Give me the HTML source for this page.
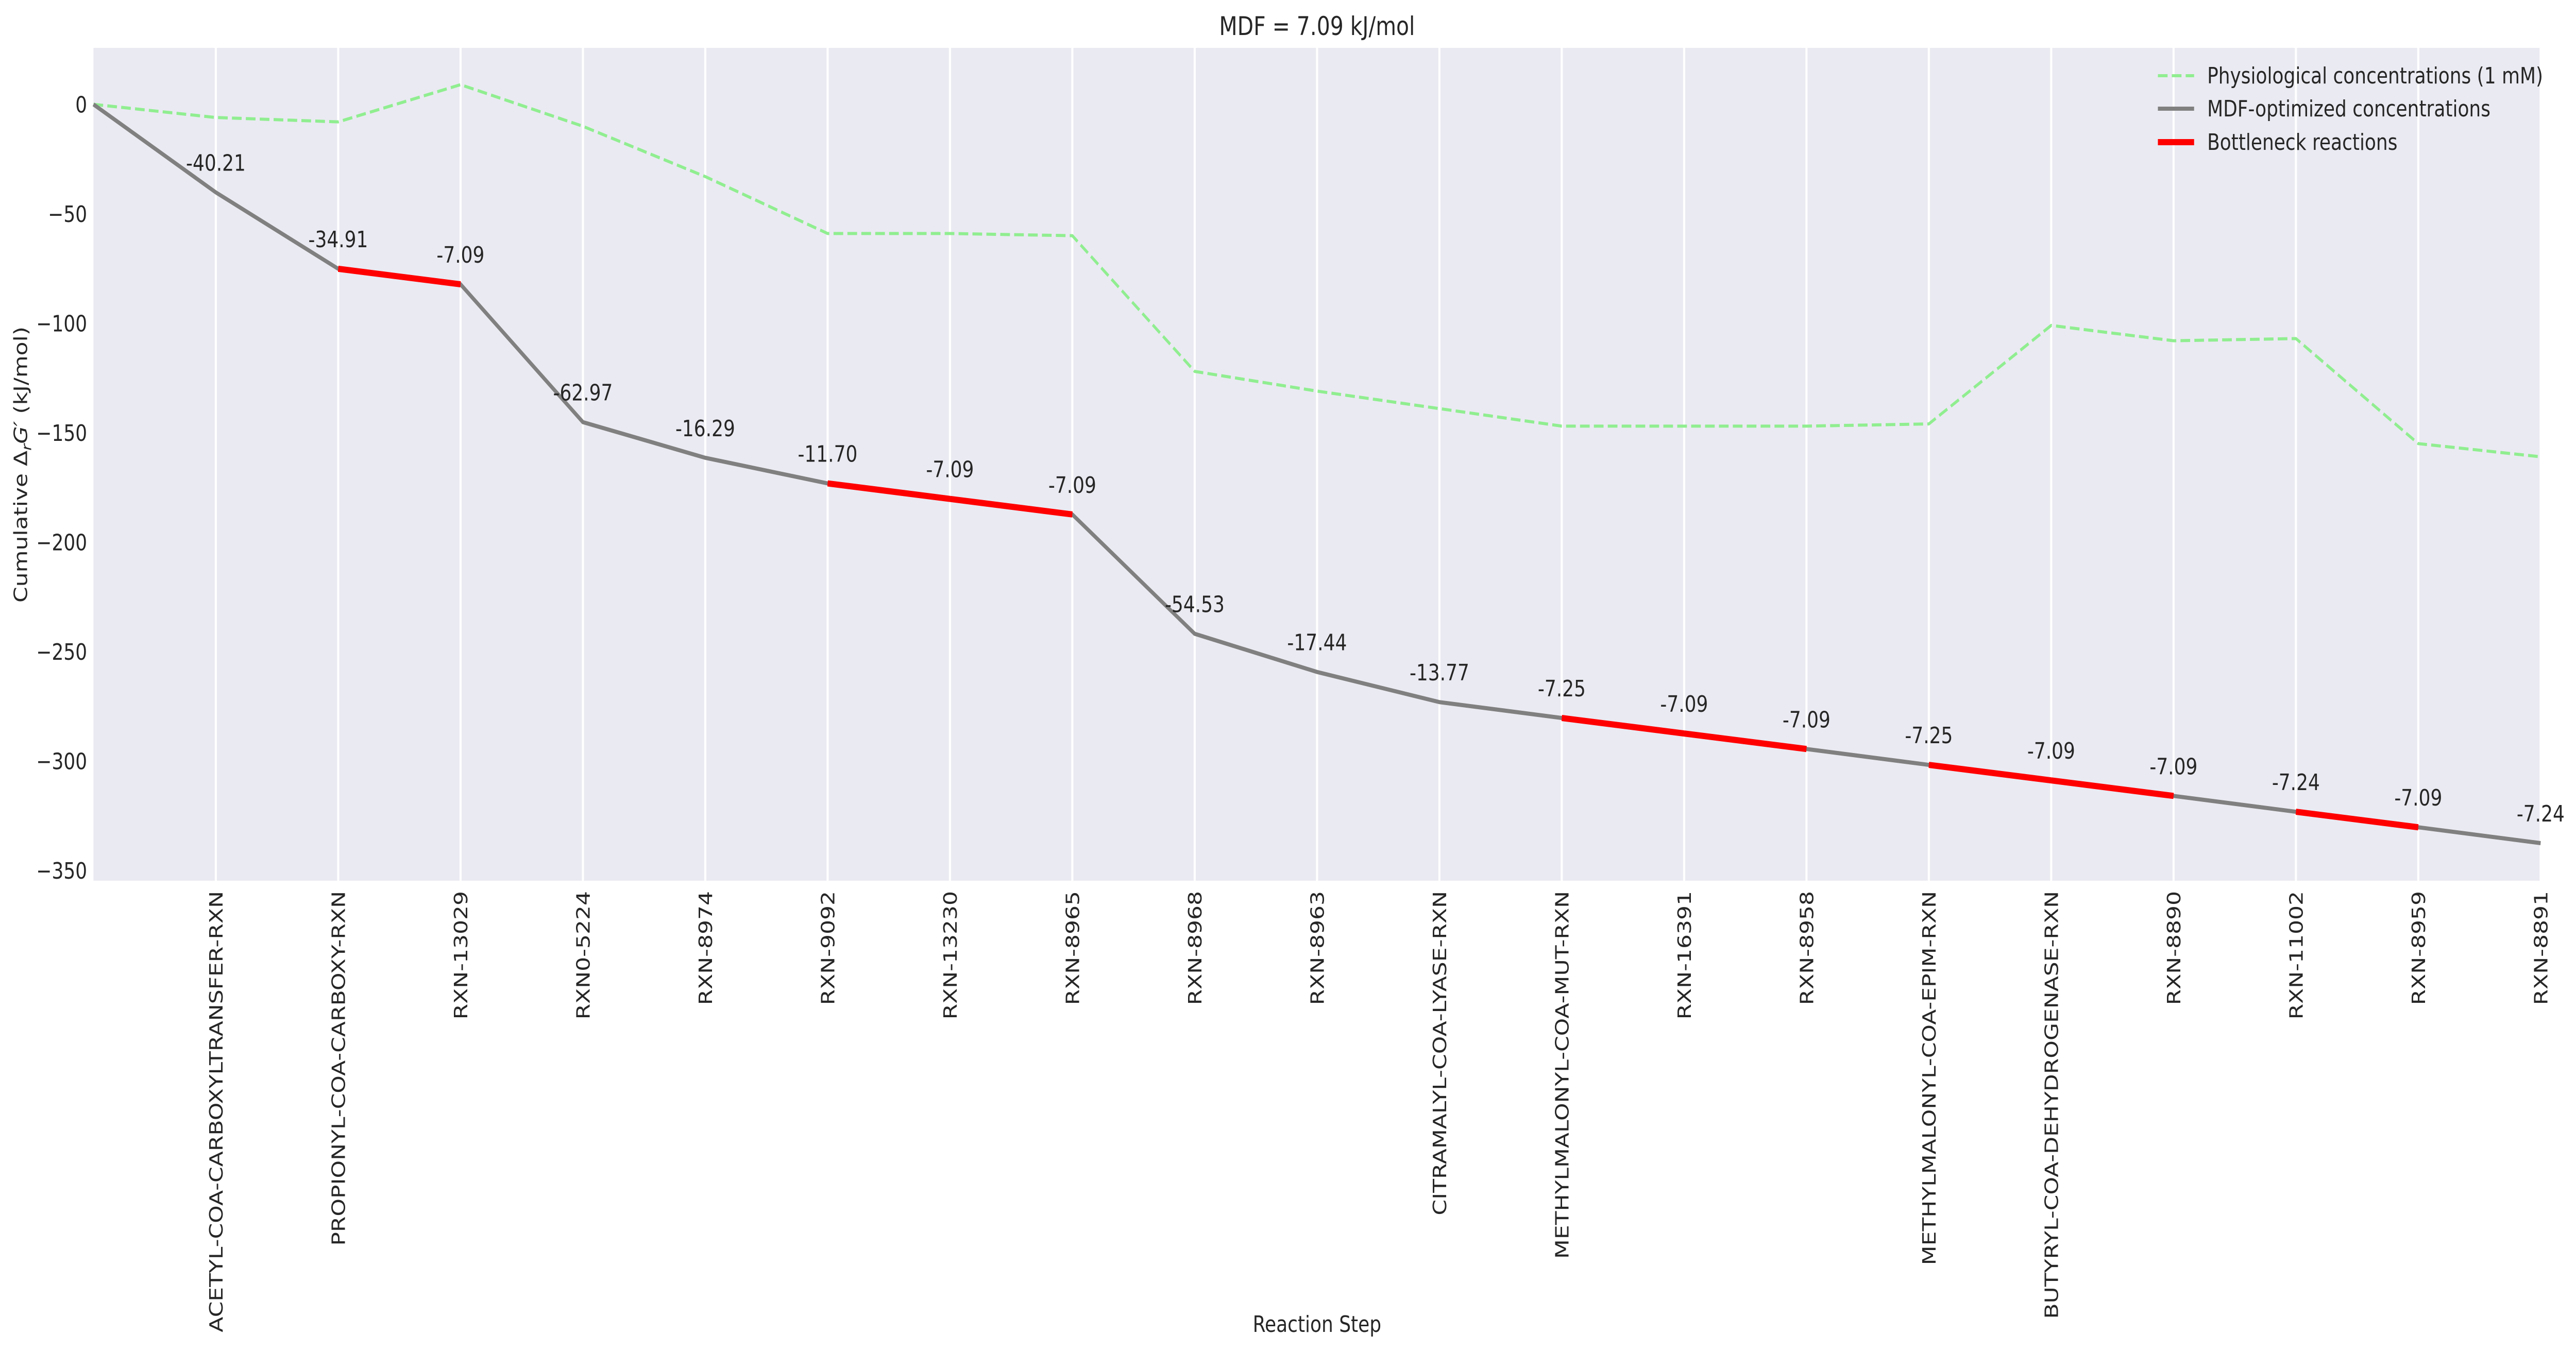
<!DOCTYPE html>
<html><head><meta charset="utf-8"><style>
html,body{margin:0;padding:0;background:#fff;overflow:hidden;width:100vw;height:100vh}
svg{display:block;width:100vw;height:100vh}
text{font-family:"DejaVu Sans","Liberation Sans",sans-serif;fill:#262626}
</style></head><body>
<svg id="chart" viewBox="0 0 6118 2625" preserveAspectRatio="none" xmlns="http://www.w3.org/2000/svg">
<rect x="0" y="0" width="6118" height="2625" fill="#fff"/>
<rect x="222" y="93" width="5812" height="1617" fill="#eaeaf2"/>
<g id="grid"></g>
<g id="series"></g>
<g id="labels"></g>
<g id="ticks"></g>
<text x="3128" y="68" font-size="50" text-anchor="middle">MDF = 7.09 kJ/mol</text>
<text x="3128" y="2586" font-size="44" text-anchor="middle">Reaction Step</text>
<text transform="translate(64,902) rotate(-90)" font-size="44" text-anchor="middle">Cumulative Δ<tspan font-style="italic" font-size="32" dy="10">r</tspan><tspan font-style="italic" dy="-10">G′</tspan> (kJ/mol)</text>
<g>
<line x1="5125" y1="147" x2="5211" y2="147" stroke="#90ee90" stroke-width="6" stroke-dasharray="23,10"/>
<text x="5242" y="162" font-size="44">Physiological concentrations (1 mM)</text>
<line x1="5125" y1="211" x2="5211" y2="211" stroke="#808080" stroke-width="8"/>
<text x="5242" y="226" font-size="44">MDF-optimized concentrations</text>
<line x1="5125" y1="276" x2="5211" y2="276" stroke="#ff0000" stroke-width="12"/>
<text x="5242" y="291" font-size="44">Bottleneck reactions</text>
</g>
</svg>
<script>
const categories = ["ACETYL-COA-CARBOXYLTRANSFER-RXN","PROPIONYL-COA-CARBOXY-RXN","RXN-13029","RXN0-5224","RXN-8974","RXN-9092","RXN-13230","RXN-8965","RXN-8968","RXN-8963","CITRAMALYL-COA-LYASE-RXN","METHYLMALONYL-COA-MUT-RXN","RXN-16391","RXN-8958","METHYLMALONYL-COA-EPIM-RXN","BUTYRYL-COA-DEHYDROGENASE-RXN","RXN-8890","RXN-11002","RXN-8959","RXN-8891"];
const stepDG = [-40.21,-34.91,-7.09,-62.97,-16.29,-11.70,-7.09,-7.09,-54.53,-17.44,-13.77,-7.25,-7.09,-7.09,-7.25,-7.09,-7.09,-7.24,-7.09,-7.24];
const physiological = [0,-6,-8,9,-10,-33,-59,-59,-60,-122,-131,-139,-147,-147,-147,-146,-101,-108,-107,-155,-161];
const bottleneckFlags = [0,0,1,0,0,0,1,1,0,0,0,0,1,1,0,1,1,0,1,0];
const yTicks = [0,-50,-100,-150,-200,-250,-300,-350];

const NS="http://www.w3.org/2000/svg";
const L=222,R=6034,T=93,B=1710,Y0=25.8,Y1=-354.7;
const nPts=categories.length+1;
function xs(i){return L+(R-L)*i/(nPts-1);}
function ys(v){return T+(B-T)*(Y0-v)/(Y0-Y1);}
function mk(tag,attrs,parent){const e=document.createElementNS(NS,tag);for(const k in attrs)e.setAttribute(k,attrs[k]);parent.appendChild(e);return e;}
const grid=document.getElementById('grid'),series=document.getElementById('series'),labels=document.getElementById('labels'),ticks=document.getElementById('ticks');

const cum=[0];stepDG.forEach(d=>cum.push(cum[cum.length-1]+d));

for(let i=1;i<nPts;i++){
  const g=mk('line',{x1:xs(i),x2:xs(i),y1:T,y2:B,stroke:'#fff','stroke-width':5},grid);
  
  
  const t=mk('text',{'font-size':44,'text-anchor':'end',transform:`translate(${xs(i)+16},1730) rotate(-90)`},ticks);
  t.textContent=categories[i-1];
  
  
}
yTicks.forEach(v=>{
  const t=mk('text',{x:207,y:ys(v)+16,'font-size':44,'text-anchor':'end'},ticks);
  t.textContent=v<0?'\u2212'+Math.abs(v):String(v);
  
  
});

const phys=mk('polyline',{points:physiological.map((v,i)=>xs(i)+','+ys(v)).join(' '),fill:'none',stroke:'#90ee90','stroke-width':6,'stroke-dasharray':'23,10'},series);


const mdf=mk('polyline',{points:cum.map((v,i)=>xs(i)+','+ys(v)).join(' '),fill:'none',stroke:'#808080','stroke-width':8},series);


bottleneckFlags.forEach((f,k)=>{
  if(!f)return;
  const s=mk('line',{x1:xs(k),y1:ys(cum[k]),x2:xs(k+1),y2:ys(cum[k+1]),stroke:'#ff0000','stroke-width':12},series);
  
  
});
stepDG.forEach((d,k)=>{
  const i=k+1;
  const t=mk('text',{x:xs(i),y:ys(cum[i])-42,'font-size':44,'text-anchor':'middle'},labels);
  t.textContent=d.toFixed(2);
  
  
});
</script>
</body></html>
